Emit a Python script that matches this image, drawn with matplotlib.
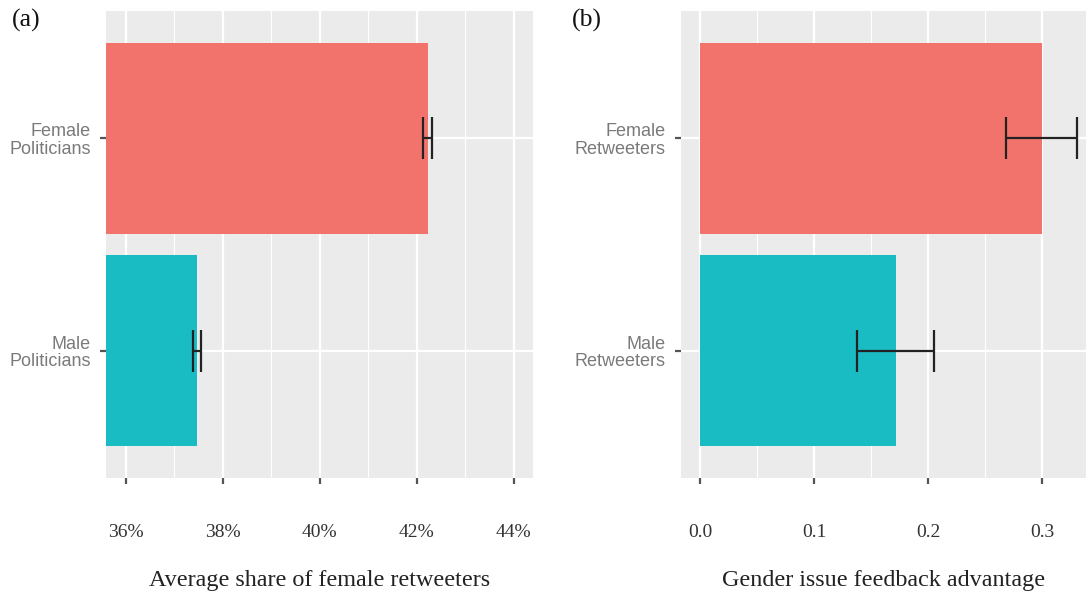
import matplotlib
matplotlib.use("Agg")
import matplotlib.pyplot as plt
from matplotlib.ticker import FixedLocator, FuncFormatter

# ---- data ----
cats_a = ["Male\nPoliticians", "Female\nPoliticians"]
vals_a = [37.46, 42.23]
lo_a = [37.39, 42.12]
hi_a = [37.55, 42.32]
xticks_a = [36, 38, 40, 42, 44]
xminor_a = [37, 39, 41, 43]

cats_b = ["Male\nRetweeters", "Female\nRetweeters"]
vals_b = [0.172, 0.300]
lo_b = [0.1375, 0.268]
hi_b = [0.205, 0.331]
xticks_b = [0.0, 0.1, 0.2, 0.3]
xminor_b = [0.05, 0.15, 0.25]

colors = ["#1ABCC4", "#F2736C"]
bg = "#EBEBEC"

fig = plt.figure(figsize=(10.86, 5.92), dpi=100)
W, H = 1086, 592
def rect(x0, x1, y0, y1):
    return [x0 / W, 1 - y1 / H, (x1 - x0) / W, (y1 - y0) / H]

ax_a = fig.add_axes(rect(106, 533.3, 11, 478))
ax_b = fig.add_axes(rect(681, 1086, 11, 478))

def style(ax, cats, vals, lo, hi, xt, xm, xlim, fmt, xlabel):
    ax.set_facecolor(bg)
    ypos = list(range(1, len(cats) + 1))
    ax.set_xlim(*xlim)
    ax.set_ylim(0.4, 2.6)
    for v in xt:
        ax.axvline(v, color="white", lw=1.6, zorder=0.5)
    for v in xm:
        ax.axvline(v, color="white", lw=0.8, zorder=0.5)
    for y in ypos:
        ax.axhline(y, color="white", lw=1.6, zorder=0.5)
    ax.barh(ypos, vals, height=0.9, color=colors, zorder=2)
    err = [[v - l for v, l in zip(vals, lo)], [h - v for v, h in zip(vals, hi)]]
    ax.errorbar(vals, ypos, xerr=err, fmt="none", ecolor="#222222",
                elinewidth=1.6, capsize=15, capthick=1.6, zorder=3)
    ax.set_yticks(ypos)
    ax.set_yticklabels(cats, fontname="Liberation Sans", fontsize=13,
                       color="#7A7A7A", linespacing=1.05)
    ax.xaxis.set_major_locator(FixedLocator(xt))
    ax.xaxis.set_major_formatter(FuncFormatter(fmt))
    for lbl in ax.get_xticklabels():
        lbl.set_fontname("Liberation Serif")
        lbl.set_fontsize(14)
        lbl.set_color("#333333")
    ax.tick_params(axis="x", length=4, width=1.6, color="#555555", pad=29)
    ax.tick_params(axis="y", length=4, width=1.6, color="#555555", pad=7)
    for s in ax.spines.values():
        s.set_visible(False)
    ax.set_xlabel(xlabel, fontname="Liberation Serif", fontsize=17.4,
                  color="#222222", labelpad=21)

style(ax_a, cats_a, vals_a, lo_a, hi_a, xticks_a, xminor_a,
      (35.594, 44.404), lambda v, p: f"{v:.0f}%",
      "Average share of female retweeters")
style(ax_b, cats_b, vals_b, lo_b, hi_b, xticks_b, xminor_b,
      (-0.0167, 0.3386), lambda v, p: f"{v:.1f}",
      "Gender issue feedback advantage")

fig.text(12 / W, 1 - 20 / H, "(a)", fontname="Liberation Serif", fontsize=18.5,
         va="center", ha="left", color="#111111")
fig.text(572 / W, 1 - 20 / H, "(b)", fontname="Liberation Serif", fontsize=18.5,
         va="center", ha="left", color="#111111")

fig.savefig("out.png", dpi=100)
